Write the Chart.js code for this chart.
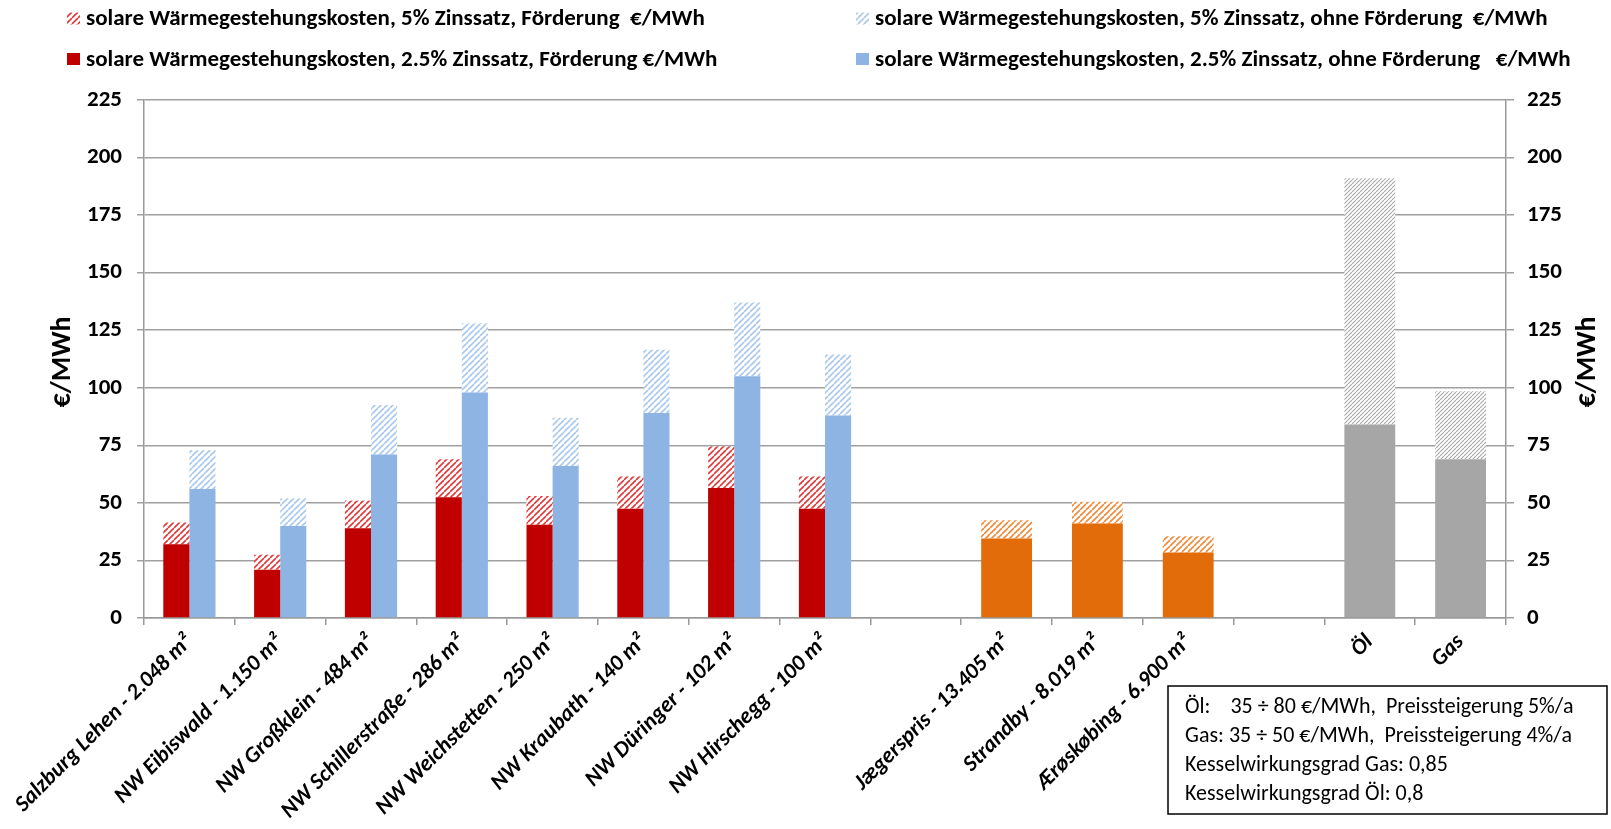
<!DOCTYPE html>
<html>
<head>
<meta charset="utf-8">
<script src="https://cdn.jsdelivr.net/npm/chart.js@4.4.1/dist/chart.umd.min.js"></script>
<style>
  html, body { margin: 0; padding: 0; background: #fff; }
  canvas { display: block; }
</style>
</head>
<body>
<canvas id="chart" width="1611" height="829"></canvas>
<script>
// Plants and reference fuels along the x axis (empty entries are spacer slots)
const categories = [
  'Salzburg Lehen - 2.048 m²', 'NW Eibiswald - 1.150 m²', 'NW Großklein - 484 m²',
  'NW Schillerstraße - 286 m²', 'NW Weichstetten - 250 m²', 'NW Kraubath - 140 m²',
  'NW Düringer - 102 m²', 'NW Hirschegg - 100 m²', '',
  'Jægerspris - 13.405 m²', 'Strandby - 8.019 m²', 'Ærøskøbing - 6.900 m²', '',
  'Öl', 'Gas'
];

// Solar heat costs in €/MWh with subsidy (Förderung), at 2.5 % and 5 % interest
const foerd25 = [32, 21, 39, 52.5, 40.5, 47.5, 56.5, 47.5, null, null, null, null, null, null, null];
const foerd5  = [41.5, 27.5, 51, 69, 53, 61.5, 74.5, 61.5, null, null, null, null, null, null, null];

// Solar heat costs in €/MWh without subsidy, at 2.5 % and 5 % interest
const ohne25 = [56, 40, 71, 98, 66, 89, 105, 88, null, null, null, null, null, null, null];
const ohne5  = [73, 52, 92.5, 128, 87, 116.5, 137, 114.5, null, null, null, null, null, null, null];

// Danish large-scale plants, 2.5 % and 5 % interest
const daenemark25 = [null, null, null, null, null, null, null, null, null, 34.5, 41, 28.5, null, null, null];
const daenemark5  = [null, null, null, null, null, null, null, null, null, 42.5, 50.5, 35.5, null, null, null];

// Oil and gas reference costs: base price and upper price with price increase
const fossilBasis = [null, null, null, null, null, null, null, null, null, null, null, null, null, 84, 69];
const fossilMax   = [null, null, null, null, null, null, null, null, null, null, null, null, null, 191, 98.5];

// Value axis ticks (both sides)
const yTicks = [0, 25, 50, 75, 100, 125, 150, 175, 200, 225];

const legendTexts = {
  foerd25: 'solare Wärmegestehungskosten, 2.5% Zinssatz, Förderung €/MWh',
  foerd5:  'solare Wärmegestehungskosten, 5% Zinssatz, Förderung  €/MWh',
  ohne25:  'solare Wärmegestehungskosten, 2.5% Zinssatz, ohne Förderung   €/MWh',
  ohne5:   'solare Wärmegestehungskosten, 5% Zinssatz, ohne Förderung  €/MWh'
};

const noteLines = [
  'Öl:    35 ÷ 80 €/MWh,  Preissteigerung 5%/a',
  'Gas: 35 ÷ 50 €/MWh,  Preissteigerung 4%/a',
  'Kesselwirkungsgrad Gas: 0,85',
  'Kesselwirkungsgrad Öl: 0,8'
];

const FONT = 'Carlito, Calibri, Lato, "Open Sans", sans-serif';

// Diagonal "///" hatch pattern on white
function hatch(color, spacing, width) {
  const c = document.createElement('canvas');
  c.width = c.height = spacing;
  const g = c.getContext('2d');
  g.fillStyle = '#ffffff';
  g.fillRect(0, 0, spacing, spacing);
  g.strokeStyle = color;
  g.lineWidth = width;
  g.beginPath();
  for (let k = -1; k <= 1; k++) {
    g.moveTo(k * spacing, spacing);
    g.lineTo(k * spacing + spacing, 0);
  }
  g.stroke();
  return g.createPattern(c, 'repeat');
}

// Upper (hatched) segment = 5 % value minus the 2.5 % value beneath it
const diff = (hi, lo) => hi.map((v, i) => (v == null || lo[i] == null) ? null : +(v - lo[i]).toFixed(2));

const RED = '#C00000', BLUE = '#8EB4E3', ORANGE = '#E36C0A', GREY = '#A6A6A6';

const groupedBar = { categoryPercentage: 0.575, barPercentage: 1.0, borderWidth: 0 };
const singleBar  = { grouped: false, categoryPercentage: 1.0, barPercentage: 0.56, borderWidth: 0 };

const datasets = [
  { label: legendTexts.foerd25, data: foerd25, backgroundColor: RED, stack: 'foerd', ...groupedBar },
  { label: legendTexts.foerd5, data: diff(foerd5, foerd25), backgroundColor: hatch('#E0393A', 6, 1.6), stack: 'foerd', ...groupedBar },
  { label: legendTexts.ohne25, data: ohne25, backgroundColor: BLUE, stack: 'ohne', ...groupedBar },
  { label: legendTexts.ohne5, data: diff(ohne5, ohne25), backgroundColor: hatch('#A9C8EC', 6, 1.6), stack: 'ohne', ...groupedBar },
  { label: 'DK 2.5%', data: daenemark25, backgroundColor: ORANGE, stack: 'dk', ...singleBar },
  { label: 'DK 5%', data: diff(daenemark5, daenemark25), backgroundColor: hatch('#EE8A3A', 6, 1.6), stack: 'dk', ...singleBar },
  { label: 'Fossil Basis', data: fossilBasis, backgroundColor: GREY, stack: 'fossil', ...singleBar },
  { label: 'Fossil Preissteigerung', data: diff(fossilMax, fossilBasis), backgroundColor: hatch('#A8A8A8', 4, 1.1), stack: 'fossil', ...singleBar }
];

// Legend: two columns, hatched 5 % entries on top
const legendLayout = [
  { ds: 1, x: 67, y: 18.5 }, { ds: 3, x: 856, y: 18.5 },
  { ds: 0, x: 67, y: 59 }, { ds: 2, x: 856, y: 59 }
];

const TITLE_SIZE = 28;

const decorations = {
  id: 'decorations',
  afterDraw(chart) {
    const ctx = chart.ctx;
    ctx.save();

    // legend
    ctx.textBaseline = 'middle';
    ctx.textAlign = 'left';
    ctx.font = 'bold 23px ' + FONT;
    legendLayout.forEach(item => {
      const ds = chart.data.datasets[item.ds];
      ctx.fillStyle = ds.backgroundColor;
      ctx.fillRect(item.x, item.y - 6, 13, 12);
      ctx.fillStyle = '#000';
      ctx.fillText(ds.label, item.x + 19, item.y + 1);
    });

    // axis titles, both reading upwards
    const area = chart.chartArea;
    const midY = (area.top + area.bottom) / 2 + 3;
    ctx.textAlign = 'center';
    ctx.font = 'bold ' + TITLE_SIZE + 'px ' + FONT;
    ctx.fillStyle = '#000';
    [63, 1588].forEach(x => {
      ctx.save();
      ctx.translate(x, midY);
      ctx.rotate(-Math.PI / 2);
      ctx.fillText('€/MWh', 0, 0);
      ctx.restore();
    });

    // note box with fuel price assumptions
    ctx.textAlign = 'left';
    const bx = 1168, by = 686, bw = 439, bh = 128;
    ctx.fillStyle = '#fff';
    ctx.fillRect(bx, by, bw, bh);
    ctx.strokeStyle = '#000';
    ctx.lineWidth = 1.5;
    ctx.strokeRect(bx, by, bw, bh);
    ctx.fillStyle = '#000';
    ctx.font = '22px ' + FONT;
    noteLines.forEach((line, i) => ctx.fillText(line, bx + 17, by + 21 + i * 29));

    ctx.restore();
  }
};

const tickFont = { family: FONT, size: 23, weight: 'bold' };

new Chart(document.getElementById('chart'), {
  type: 'bar',
  data: { labels: categories, datasets },
  options: {
    responsive: false,
    animation: false,
    devicePixelRatio: 1,
    layout: { padding: { top: 100, left: 0, right: 0, bottom: 0 } },
    plugins: { legend: { display: false }, tooltip: { enabled: false } },
    scales: {
      x: {
        offset: true,
        grid: { display: true, drawOnChartArea: false, offset: true, tickLength: 7, color: '#999', lineWidth: 1.5 },
        border: { color: '#999', width: 1.5 },
        ticks: {
          autoSkip: false, minRotation: 45, maxRotation: 45, padding: 4,
          color: '#000', font: { family: FONT, size: 22.5, weight: 'bold', style: 'italic' }
        },
        afterFit(scale) { scale.height = 211; }
      },
      y: {
        position: 'left', stacked: true, min: 0, max: 225,
        afterBuildTicks(scale) { scale.ticks = yTicks.map(v => ({ value: v })); },
        grid: { color: '#A0A0A0', lineWidth: 1.5, tickLength: 7 },
        border: { color: '#999', width: 1.5 },
        ticks: { color: '#000', font: tickFont, padding: 15 },
        afterFit(scale) { scale.width = 144; }
      },
      y1: {
        position: 'right', min: 0, max: 225,
        afterBuildTicks(scale) { scale.ticks = yTicks.map(v => ({ value: v })); },
        grid: { drawOnChartArea: false, color: '#A0A0A0', lineWidth: 1.5, tickLength: 8 },
        border: { color: '#999', width: 1.5 },
        ticks: { color: '#000', font: tickFont, padding: 13 },
        afterFit(scale) { scale.width = 105; }
      }
    }
  },
  plugins: [decorations]
});
</script>
</body>
</html>
